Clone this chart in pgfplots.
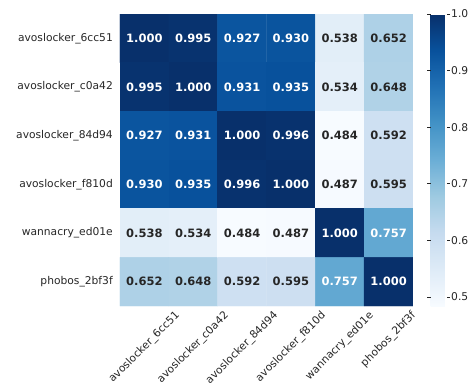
\documentclass[border=0pt]{standalone}
\usepackage{pgfplots}
\pgfplotsset{compat=1.18}
\usepackage{fontspec}
\setmainfont{DejaVu Sans}
\definecolor{lbl}{HTML}{262626}
\begin{document}
\begin{tikzpicture}
\begin{axis}[
  name=main, at={(0,0)}, anchor=north west,
  scale only axis, width=293pt, height=292pt,
  enlargelimits=false,
  xmin=-0.5, xmax=5.5, ymin=-0.5, ymax=5.5,
  y dir=reverse,
  axis line style={draw=none},
  major tick length=0pt,
  xtick={0,1,2,3,4,5}, ytick={0,1,2,3,4,5},
  xticklabels={\rotatebox{45}{avoslocker\_6cc51},\rotatebox{45}{avoslocker\_c0a42},\rotatebox{45}{avoslocker\_84d94},\rotatebox{45}{avoslocker\_f810d},\rotatebox{45}{wannacry\_ed01e},\rotatebox{45}{phobos\_2bf3f}},
  yticklabels={avoslocker\_6cc51,avoslocker\_c0a42,avoslocker\_84d94,avoslocker\_f810d,wannacry\_ed01e,phobos\_2bf3f},
  xticklabel style={anchor=north, inner sep=0pt, yshift=-4pt, font=\fontsize{10.7}{12}\selectfont, text=lbl},
  yticklabel style={anchor=east, inner sep=0pt, xshift=-7pt, font=\fontsize{10.7}{12}\selectfont, text=lbl},
  colormap={blues}{rgb255=(247,251,255) rgb255=(222,235,247) rgb255=(198,219,239) rgb255=(158,202,225) rgb255=(107,174,214) rgb255=(66,146,198) rgb255=(33,113,181) rgb255=(8,81,156) rgb255=(8,48,107)},
  point meta min=0.484, point meta max=1,
  colorbar,
  colorbar style={
    at={(parent axis.north east)}, anchor=north west, xshift=9pt,
    scale only axis, width=16pt, height=292pt,
    ytick={0.5,0.6,0.7,0.8,0.9,1.0},
    axis line style={draw=none},
    tick align=outside, major tick length=3.5pt,
    major tick style={lbl, line width=0.6pt},
    yticklabel style={/pgf/number format/fixed, /pgf/number format/precision=1, /pgf/number format/fixed zerofill, /pgf/number format/assume math mode=true, font=\fontsize{10.7}{12}\selectfont, text=lbl, inner sep=0pt, xshift=1pt},
  },
]
\addplot[matrix plot*, mesh/cols=6, point meta=explicit] table[meta=c] {
x y c
0 0 1.000
1 0 0.995
2 0 0.927
3 0 0.930
4 0 0.538
5 0 0.652
0 1 0.995
1 1 1.000
2 1 0.931
3 1 0.935
4 1 0.534
5 1 0.648
0 2 0.927
1 2 0.931
2 2 1.000
3 2 0.996
4 2 0.484
5 2 0.592
0 3 0.930
1 3 0.935
2 3 0.996
3 3 1.000
4 3 0.487
5 3 0.595
0 4 0.538
1 4 0.534
2 4 0.484
3 4 0.487
4 4 1.000
5 4 0.757
0 5 0.652
1 5 0.648
2 5 0.592
3 5 0.595
4 5 0.757
5 5 1.000
};
% white annotations
\addplot[only marks, mark=none, point meta=explicit symbolic, nodes near coords,
  every node near coord/.append style={anchor=center, text=white, font=\bfseries\fontsize{11.5}{13}\selectfont}]
  table[meta=l] {
x y l
0 0 1.000
1 0 0.995
2 0 0.927
3 0 0.930
0 1 0.995
1 1 1.000
2 1 0.931
3 1 0.935
0 2 0.927
1 2 0.931
2 2 1.000
3 2 0.996
0 3 0.930
1 3 0.935
2 3 0.996
3 3 1.000
4 4 1.000
5 4 0.757
4 5 0.757
5 5 1.000
};
% dark annotations
\addplot[only marks, mark=none, point meta=explicit symbolic, nodes near coords,
  every node near coord/.append style={anchor=center, text=lbl, font=\bfseries\fontsize{11.5}{13}\selectfont}]
  table[meta=l] {
x y l
4 0 0.538
5 0 0.652
4 1 0.534
5 1 0.648
4 2 0.484
5 2 0.592
4 3 0.487
5 3 0.595
0 4 0.538
1 4 0.534
2 4 0.484
3 4 0.487
0 5 0.652
1 5 0.648
2 5 0.592
3 5 0.595
};
\end{axis}
\pgfresetboundingbox
\path[use as bounding box] (-120pt,14pt) rectangle (351pt,-371pt);
\end{tikzpicture}
\end{document}
